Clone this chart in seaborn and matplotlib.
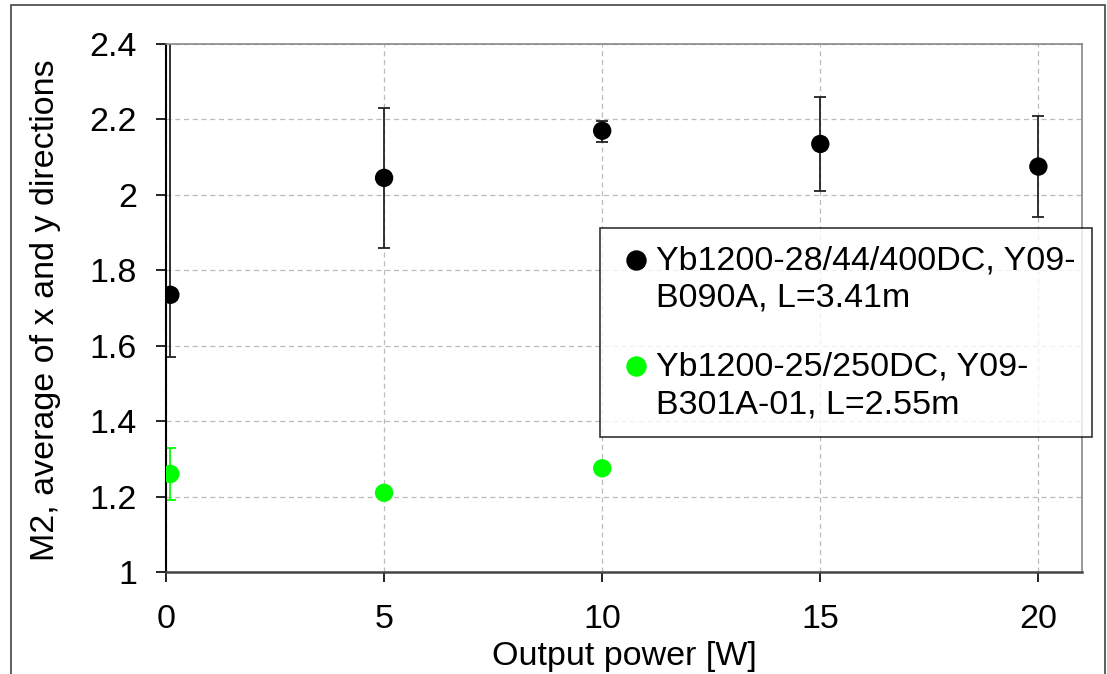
import matplotlib
matplotlib.use("Agg")
import matplotlib.pyplot as plt
import seaborn as sns
import pandas as pd
import numpy as np
from matplotlib.lines import Line2D
from matplotlib.legend_handler import HandlerLine2D

# Data
black_label = "Yb1200-28/44/400DC, Y09-\nB090A, L=3.41m"
green_label = "Yb1200-25/250DC, Y09-\nB301A-01, L=2.55m"
black_x = [0.1, 5, 10, 15, 20]
black_y = [1.735, 2.045, 2.17, 2.135, 2.075]
black_err_lo = [0.165, 0.185, 0.03, 0.125, 0.135]
black_err_hi = [0.75, 0.185, 0.025, 0.125, 0.135]
green_x = [0.1, 5, 10]
green_y = [1.26, 1.21, 1.275]
green_err = [0.07, 0.0, 0.0]

x_ticks = [0, 5, 10, 15, 20]
y_ticks = [1, 1.2, 1.4, 1.6, 1.8, 2, 2.2, 2.4]
y_tick_labels = ["1", "1.2", "1.4", "1.6", "1.8", "2", "2.2", "2.4"]

sns.set_theme(style="white")
plt.rcParams['font.family'] = ['Liberation Sans', 'DejaVu Sans']
plt.rcParams['text.color'] = 'black'
plt.rcParams['axes.labelcolor'] = 'black'

FS = 24.5
LS = 1.27


class FirstLineHandler(HandlerLine2D):
    """Place the legend marker level with the first line of a two-line label."""
    def create_artists(self, legend, orig_handle, xdescent, ydescent, width,
                       height, fontsize, trans):
        arts = super().create_artists(legend, orig_handle, xdescent, ydescent,
                                      width, height, fontsize, trans)
        for a in arts:
            a.set_ydata([y + 0.58 * fontsize for y in a.get_ydata()])
        return arts


fig = plt.figure(figsize=(11.07, 6.74), dpi=100)
ax = fig.add_axes([166/1107, 1 - 572/674, (1082-166)/1107, (572-44)/674])

df = pd.concat([
    pd.DataFrame({"x": black_x, "y": black_y, "s": "black"}),
    pd.DataFrame({"x": green_x, "y": green_y, "s": "green"}),
])

# error bars
ax.errorbar(black_x, black_y, yerr=[black_err_lo, black_err_hi], fmt="none",
            ecolor="#222222", elinewidth=1.3, capsize=4, capthick=1.3, zorder=2)
gx = [x for x, e in zip(green_x, green_err) if e > 0]
gy = [y for y, e in zip(green_y, green_err) if e > 0]
ge = [e for e in green_err if e > 0]
ax.errorbar(gx, gy, yerr=ge, fmt="none", ecolor="#00ff00", elinewidth=1.3,
            capsize=4, capthick=1.3, zorder=2)

sns.scatterplot(data=df, x="x", y="y", hue="s",
                palette={"black": "black", "green": "#00ff00"},
                s=175, edgecolor="none", ax=ax, zorder=3, legend=False)

ax.set_xlim(0, 21)
ax.set_ylim(1, 2.4)
ax.set_xticks(x_ticks)
ax.set_yticks(y_ticks)
ax.set_yticklabels(y_tick_labels)
ax.tick_params(axis="both", labelsize=FS, colors="black", direction="out",
               length=7.2, width=1.2, left=True, bottom=True)
ax.tick_params(axis="x", pad=16)
ax.tick_params(axis="y", pad=13.7)
ax.grid(True, color="#bbbbbb", linestyle=(0, (4, 3)), linewidth=0.9)

for side in ["top", "right"]:
    ax.spines[side].set_color("#888888")
    ax.spines[side].set_linewidth(1.2)
ax.spines["left"].set_color("black")
ax.spines["left"].set_linewidth(1.5)
ax.spines["bottom"].set_color("#444444")
ax.spines["bottom"].set_linewidth(1.8)

ax.set_xlabel("Output power [W]", fontsize=FS, labelpad=0, va="top", color="black")
ax.xaxis.set_label_coords(0.5, -0.13)
ax.set_ylabel("M2, average of x and y directions", fontsize=FS, va="center",
              color="black")
ax.yaxis.set_label_coords(-0.132, 0.495)

# legend
handles = [
    Line2D([], [], marker="o", color="black", linestyle="none", markersize=13.7),
    Line2D([], [], marker="o", color="#00ff00", linestyle="none", markersize=13.7),
]
leg = ax.legend(handles, [black_label, green_label], loc="upper left",
                bbox_to_anchor=((600-166)/(1082-166), (572-228)/(572-44)),
                fontsize=FS, frameon=True, fancybox=False, edgecolor="black",
                handletextpad=0.0, borderpad=0.5, labelspacing=1.12,
                handlelength=1.14, borderaxespad=0,
                handler_map={Line2D: FirstLineHandler()})
for t in leg.get_texts():
    t.set_linespacing(LS)
    t.set_color("black")
leg.get_frame().set_linewidth(1.2)
leg.set_zorder(5)

# figure border
fig.patches.append(plt.Rectangle((11/1107, -0.1), (1105-11)/1107, 1.1 - 5/674,
                                 transform=fig.transFigure, fill=False,
                                 edgecolor="#444444", linewidth=1.2))

fig.savefig("out.png", dpi=100)
